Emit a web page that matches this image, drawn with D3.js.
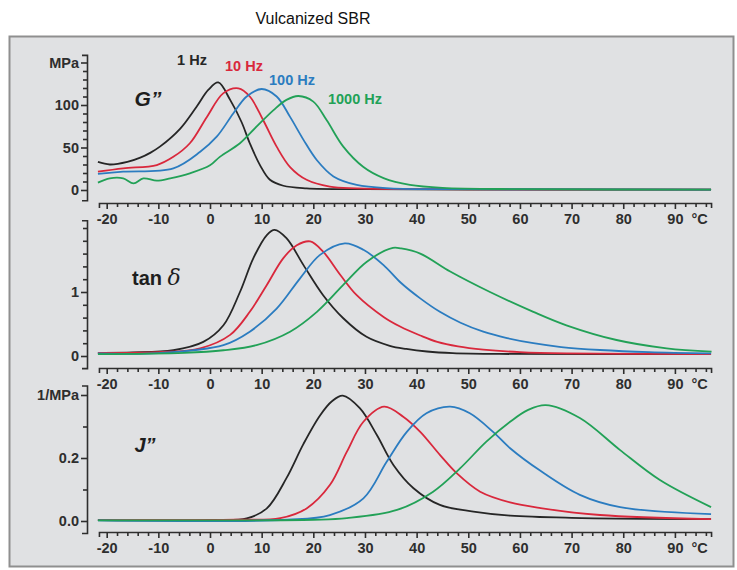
<!DOCTYPE html>
<html>
<head>
<meta charset="utf-8">
<script src="https://cdn.jsdelivr.net/npm/d3@7"></script>
<style>
  body { margin:0; background:#fff; }
  text { font-family: "Liberation Sans", Arial, sans-serif; }
</style>
</head>
<body>
<svg id="graph"></svg>
<script>
// frequencies and colours
var freqs = ["1 Hz", "10 Hz", "100 Hz", "1000 Hz"];
var colors = ["#262626", "#d9283c", "#2b7cc0", "#22a157"];

// temperature ticks (°C)
var xTicks = [-20, -10, 0, 10, 20, 30, 40, 50, 60, 70, 80, 90];

// G'' (MPa) : [temperature, value]
var g1 = [[-21.7,33],[-19.4,30],[-16,33],[-13.5,38],[-11.5,44],[-9.7,51],[-5.8,72],[-2.6,98],[-0.3,118],[1.6,126.5],[3.9,106],[6.1,80],[7.7,55],[9.7,29],[11.6,12],[14.2,5],[18.7,2],[30,1],[50,0.5],[97,0.5]];
var g10 = [[-21.7,21.5],[-16.8,25.5],[-10.3,29.4],[-7.1,39],[-3.9,55],[-0.6,86],[2.6,114],[5.5,119.6],[7.7,110],[10.3,82],[12.9,51],[15.5,27],[18.7,12],[23.2,4],[28.4,2],[40,1],[97,0.5]];
var g100 = [[-21.7,19],[-16.8,21.5],[-7.1,25.5],[-1.9,45],[1.3,62.7],[4.5,90],[7.1,110],[10,118.8],[12.9,110],[15.5,86],[18.1,59],[20.7,35],[23.9,16],[28.4,6],[34.8,2],[50,1],[97,0.5]];
var g1000 = [[-21.7,8.6],[-19.4,13.7],[-16.8,13.7],[-14.8,7.8],[-12.9,13.7],[-10.3,11],[-7.7,13.7],[-3.9,19.6],[0,29],[1.9,39],[5.8,55],[9,74.5],[12.3,94],[14.8,106],[17.1,110.6],[20,104],[22.6,82],[25.8,51],[29.7,27],[33.6,14],[38.7,6],[45,2.5],[60,1],[97,0.5]];

// tan delta
var t1 = [[-21.7,0.05],[-15,0.055],[-7.1,0.09],[-1.3,0.22],[2.6,0.48],[5.8,1.0],[8.4,1.53],[11,1.89],[12.5,1.97],[14.8,1.84],[18.1,1.42],[21.9,0.95],[25.8,0.59],[30.3,0.3],[34.8,0.16],[38,0.11],[42,0.07],[47,0.045],[56,0.032],[97,0.03]];
var t10 = [[-21.7,0.05],[-10,0.06],[-1.9,0.12],[3.9,0.33],[7.7,0.69],[11,1.11],[14.2,1.53],[16.8,1.73],[19.4,1.79],[21.9,1.63],[25.2,1.27],[28.4,0.95],[33.6,0.61],[36.8,0.46],[40.7,0.32],[44,0.22],[48,0.15],[52.9,0.1],[60,0.06],[69,0.04],[97,0.03]];
var t100 = [[-21.7,0.04],[-10,0.045],[2.6,0.17],[7.7,0.38],[12.9,0.74],[17.4,1.21],[21.3,1.58],[26.1,1.76],[29.7,1.66],[33.6,1.42],[37,1.14],[40.7,0.9],[44.5,0.69],[48.5,0.52],[52.9,0.38],[57.5,0.28],[62.6,0.2],[68,0.14],[75.5,0.094],[85,0.06],[97,0.04]];
var t1000 = [[-21.7,0.03],[-5,0.05],[2.6,0.09],[9,0.17],[15.5,0.38],[20.7,0.69],[25.8,1.11],[30.3,1.47],[35.4,1.69],[37,1.68],[40.7,1.6],[46.5,1.32],[54.2,1.0],[62.6,0.69],[69,0.48],[78.7,0.25],[88.4,0.12],[97.1,0.067]];

// J'' (1/MPa)
var j1 = [[-21.7,0.003],[0,0.003],[7.1,0.008],[11,0.04],[14.8,0.136],[18.1,0.245],[21.3,0.335],[23.6,0.38],[25.7,0.398],[29,0.358],[32.3,0.273],[35.5,0.178],[39.4,0.104],[44.5,0.051],[51,0.03],[58.1,0.017],[70,0.01],[97,0.006]];
var j10 = [[-21.7,0.003],[5,0.004],[13.6,0.009],[18.7,0.04],[23.2,0.114],[26.5,0.22],[29.7,0.315],[33.7,0.363],[37.4,0.331],[40.7,0.283],[44.5,0.21],[47.8,0.151],[52.3,0.093],[58.1,0.059],[64,0.041],[75.5,0.019],[97,0.006]];
var j100 = [[-21.7,0.002],[15,0.004],[23.2,0.019],[29.7,0.072],[34.2,0.188],[38.1,0.283],[41.9,0.342],[46.5,0.363],[50.3,0.342],[54.8,0.283],[58.1,0.231],[63.9,0.16],[71.6,0.083],[79.4,0.044],[97,0.022]];
var j1000 = [[-21.7,0.002],[20,0.004],[26.5,0.009],[36.2,0.035],[43.2,0.093],[48.4,0.167],[53.5,0.252],[58.1,0.315],[61.5,0.352],[65,0.368],[71.6,0.327],[79.4,0.225],[87.1,0.13],[97,0.044]];

var width = 737, height = 570;
var svg = d3.select("#graph").attr("width", width).attr("height", height);

// frame
svg.append("rect")
    .attr("x", 9.5).attr("y", 36.5).attr("width", 724).attr("height", 530)
    .attr("fill", "#e0e1e3").attr("stroke", "#8f8f8f").attr("stroke-width", 2);

svg.append("text")
    .attr("x", 313).attr("y", 24)
    .attr("text-anchor", "middle")
    .style("font-size", "16px").style("fill", "#111")
    .text("Vulcanized SBR");

// shared temperature scale
var x = d3.scaleLinear().domain([-20, 90]).range([106.7, 674.9]);
var xAxisDom = [-21.5, 97];
var xLine = d3.scaleLinear().domain(xAxisDom).range(xAxisDom.map(x));

var panels = [
    { data: [g1, g10, g100, g1000], y: d3.scaleLinear().domain([0, 100]).range([190, 105]),
      ext: [-12, 159], ticks: d3.range(0, 151, 10), labels: {0:"0", 50:"50", 100:"100", 150:"MPa"},
      axisY: 203 },
    { data: [t1, t10, t100, t1000], y: d3.scaleLinear().domain([0, 1]).range([356, 292]),
      ext: [-0.19, 2.12], ticks: d3.range(0, 2.01, 0.2), labels: {0:"0", 1:"1"},
      axisY: 368 },
    { data: [j1, j10, j100, j1000], y: d3.scaleLinear().domain([0, 0.2]).range([521, 458]),
      ext: [-0.038, 0.43], ticks: d3.range(0, 0.41, 0.1), labels: {0:"0.0", 0.2:"0.2", 0.4:"1/MPa"},
      axisY: 532 }
];

var axisColor = "#2e2e2e";

function styleAxis(g) {
    g.selectAll("path,line").attr("stroke", axisColor).attr("stroke-width", 1.6);
    g.selectAll("text")
        .style("font-size", "14.5px").style("font-weight", "bold")
        .attr("fill", "#2e2e2e");
}

panels.forEach(function(p) {
    var yl = d3.scaleLinear().domain(p.ext).range(p.ext.map(p.y));

    // y axis
    var gy = svg.append("g")
        .attr("transform", "translate(87,0)")
        .call(d3.axisLeft(yl)
            .tickValues(p.ticks)
            .tickSizeOuter(0)
            .tickSize(5)
            .tickPadding(3)
            .tickFormat(function(d) {
                var k = Math.round(d * 100) / 100;
                return p.labels[k] !== undefined ? p.labels[k] : "";
            }));
    styleAxis(gy);
    gy.selectAll(".tick line").attr("x2", function(d) {
        var k = Math.round(d * 100) / 100;
        return p.labels[k] !== undefined ? -6 : -4;
    });

    // x axis
    var gx = svg.append("g")
        .attr("transform", "translate(0," + p.axisY + ")")
        .call(d3.axisBottom(xLine)
            .tickValues(d3.range(-20, 97, 2))
            .tickSizeOuter(0)
            .tickSize(5)
            .tickPadding(6)
            .tickFormat(function(d) { return xTicks.indexOf(d) >= 0 ? d : ""; }));
    styleAxis(gx);
    gx.selectAll(".tick line").attr("y2", function(d) { return d % 10 === 0 ? 6 : 4; });
    gx.append("text")
        .attr("x", x(94.8)).attr("y", 21)
        .attr("text-anchor", "middle")
        .style("font-size", "14.5px").style("font-weight", "bold")
        .attr("fill", "#2e2e2e")
        .text("°C");

    // curves
    var line = d3.line()
        .x(function(d) { return x(d[0]); })
        .y(function(d) { return p.y(d[1]); })
        .curve(d3.curveCatmullRom.alpha(0.5));
    p.data.forEach(function(series, i) {
        svg.append("path")
            .datum(series)
            .attr("d", line)
            .attr("fill", "none")
            .attr("stroke", colors[i])
            .attr("stroke-width", 1.8)
            .attr("stroke-linejoin", "round");
    });
});

// panel labels
svg.append("text")
    .attr("x", 148).attr("y", 106)
    .attr("text-anchor", "middle")
    .style("font-size", "21px").style("font-weight", "bold").style("font-style", "italic")
    .attr("fill", "#1e1e1e")
    .text("G”");

var tan = svg.append("text")
    .attr("x", 132).attr("y", 285)
    .attr("fill", "#1e1e1e");
tan.append("tspan").style("font-size", "20px").style("font-weight", "bold").text("tan ");
tan.append("tspan").style("font-size", "22px").style("font-style", "italic")
    .style("font-family", "'DejaVu Serif', 'Liberation Serif', serif").text("δ");

svg.append("text")
    .attr("x", 145).attr("y", 452)
    .attr("text-anchor", "middle")
    .style("font-size", "20px").style("font-weight", "bold").style("font-style", "italic")
    .attr("fill", "#1e1e1e")
    .text("J”");

// frequency legend
var legendPos = [[192, 65], [244, 71], [292, 85], [355, 104]];
freqs.forEach(function(f, i) {
    svg.append("text")
        .attr("x", legendPos[i][0]).attr("y", legendPos[i][1])
        .attr("text-anchor", "middle")
        .style("font-size", "14.5px").style("font-weight", "bold")
        .attr("fill", colors[i])
        .text(f);
});
</script>
</body>
</html>
